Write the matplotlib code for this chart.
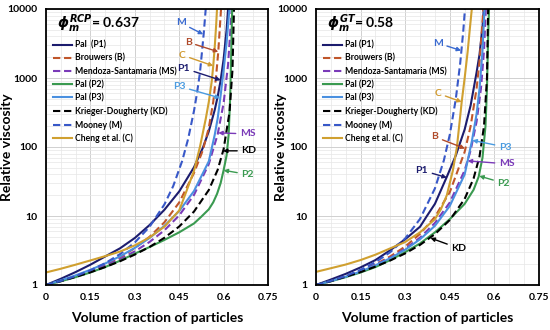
import numpy as np
import matplotlib
matplotlib.use('Agg')
import matplotlib.pyplot as plt
from matplotlib.ticker import FixedLocator, LogLocator, NullFormatter, FixedFormatter

plt.rcParams['font.family'] = ['Lato', 'DejaVu Sans']
plt.rcParams['font.weight'] = 'bold'
plt.rcParams['mathtext.fontset'] = 'dejavusans'

# ---------- left panel: phi_m(RCP) = 0.637 ----------
phi_p1_L = [0, .05, .1, .15, .2, .25, .3, .35, .4, .45, .5, .53, .55, .57, .58, .59, .6, .61, .616]
eta_p1_L = [1, 1.23, 1.54, 1.97, 2.59, 3.4, 4.8, 7.4, 12.3, 22.7, 50.9, 97.6, 169, 344, 539, 927, 1870, 4940, 11400]
phi_b_L = [0, .05, .1, .15, .2, .25, .3, .35, .4, .45, .5, .53, .55, .565, .575, .582, .588, .592]
eta_b_L = [1, 1.14, 1.33, 1.59, 1.96, 2.52, 3.42, 5.0, 8.1, 15.7, 42, 90, 190, 450, 1100, 2400, 6000, 11000]
phi_ms_L = [0, .05, .1, .15, .2, .25, .3, .35, .4, .45, .5, .55, .58, .6, .615, .625, .629]
eta_ms_L = [1, 1.14, 1.32, 1.56, 1.90, 2.37, 3.07, 4.21, 6.2, 10.2, 20.2, 56.7, 153, 431, 1540, 6860, 13000]
phi_p2_L = [0, .05, .1, .15, .2, .25, .3, .35, .4, .45, .5, .525, .55, .565, .578, .59, .6, .61, .617, .622, .626, .629]
eta_p2_L = [1, 1.13, 1.3, 1.52, 1.82, 2.25, 2.85, 3.55, 4.5, 5.8, 7.8, 9.8, 12.5, 15.8, 21, 30, 46, 75, 150, 500, 2500, 10500]
phi_p3_L = [0, .05, .1, .15, .2, .25, .3, .35, .4, .45, .5, .55, .57, .58, .59, .6, .61, .62]
eta_p3_L = [1, 1.17, 1.38, 1.66, 2.05, 2.6, 3.45, 4.8, 7.2, 11.8, 23, 62, 150, 260, 560, 1300, 3200, 10500]
phi_kd_L = [0, .05, .1, .15, .2, .25, .3, .35, .4, .45, .5, .55, .58, .6, .62, .63, .635]
eta_kd_L = [1, 1.14, 1.31, 1.53, 1.82, 2.21, 2.76, 3.56, 4.83, 7.04, 11.6, 23.8, 46.7, 93, 320, 1318, 9700]
phi_m_L = [0, .05, .1, .15, .2, .25, .3, .35, .4, .43, .46, .48, .5, .51, .52, .527, .533, .54]
eta_m_L = [1, 1.145, 1.345, 1.633, 2.07, 2.80, 4.13, 6.98, 14.7, 27.3, 62.7, 130, 334, 598, 1185, 2400, 4500, 10500]
phi_c_L = [0, .05, .1, .15, .2, .25, .3, .35, .4, .45, .5, .52, .54, .55, .56, .565, .57, .575, .578]
eta_c_L = [1.52, 1.72, 1.97, 2.27, 2.62, 3.05, 3.75, 4.9, 7.0, 12, 45, 100, 260, 450, 900, 1500, 2800, 6000, 10500]

# ---------- right panel: phi_m(GT) = 0.58 ----------
phi_p1_R = [0, .05, .1, .15, .2, .25, .3, .35, .373, .4, .44, .47, .5, .52, .54, .55, .56, .565]
eta_p1_R = [1, 1.2, 1.45, 1.8, 2.3, 3.2, 4.6, 7.0, 10, 15, 37, 75, 180, 400, 1200, 2200, 5500, 11000]
phi_b_R = [0, .05, .1, .15, .2, .25, .3, .35, .4, .45, .5, .52, .54, .55, .56, .564]
eta_b_R = [1, 1.14, 1.34, 1.60, 1.99, 2.60, 3.61, 5.51, 9.73, 22.2, 85, 200, 698, 1750, 6560, 12500]
phi_ms_R = [0, .05, .1, .15, .2, .25, .3, .35, .4, .45, .5, .52, .54, .555, .565, .572]
eta_ms_R = [1, 1.143, 1.33, 1.585, 1.95, 2.49, 3.35, 4.86, 7.93, 15.7, 45.9, 89, 232, 716, 2490, 11700]
phi_p2_R = [0, .05, .1, .15, .2, .25, .3, .35, .4, .45, .5, .53, .547, .56, .57, .575, .579, .582]
eta_p2_R = [1, 1.13, 1.3, 1.52, 1.82, 2.3, 3.0, 4.0, 5.8, 9.0, 15, 24, 37, 70, 200, 700, 4000, 10500]
phi_p3_R = [0, .05, .1, .15, .2, .25, .3, .35, .4, .45, .5, .524, .54, .55, .56, .567]
eta_p3_R = [1, 1.14, 1.32, 1.57, 1.93, 2.45, 3.25, 4.6, 7.2, 14, 40, 120, 300, 700, 2500, 10500]
phi_kd_R = [0, .05, .1, .15, .2, .25, .3, .35, .4, .45, .5, .53, .55, .565, .575, .579]
eta_kd_R = [1, 1.14, 1.32, 1.54, 1.85, 2.27, 2.87, 3.82, 5.46, 8.75, 17.7, 35, 73, 200, 985, 10200]
phi_m_R = [0, .05, .1, .15, .2, .25, .3, .35, .4, .43, .45, .47, .485, .495, .502]
eta_m_R = [1, 1.147, 1.35, 1.66, 2.14, 3.0, 4.73, 9.08, 25.1, 63.9, 151, 490, 1640, 4630, 11300]
phi_c_R = [0, .05, .1, .15, .2, .25, .3, .35, .4, .42, .44, .46, .474, .49, .5, .51, .518, .524]
eta_c_R = [1.55, 1.75, 1.98, 2.3, 2.75, 3.4, 4.2, 5.8, 9.0, 12.5, 20, 45, 100, 450, 1000, 2400, 5500, 10000]

labels_L = ['Pal  (P1)', 'Brouwers (B)', 'Mendoza-Santamaria (MS)', 'Pal (P2)', 'Pal (P3)',
            'Krieger-Dougherty (KD)', 'Mooney (M)', 'Cheng et al. (C)']
labels_R = ['Pal (P1)', 'Brouwers (B)', 'Mendoza-Santamaria (MS)', 'Pal (P2)', 'Pal (P3)',
            'Krieger-Dougherty (KD)', 'Mooney (M)', 'Cheng et al. (C)']

colors = ['#1c1c6e', '#c0562a', '#7a3ab8', '#3a9a50', '#4a90e0', '#000000', '#3858c8', '#d0a030']
dashed = [False, True, True, False, False, True, True, False]
txtcol = {'P1': '#1c1c6e', 'B': '#b04a2a', 'MS': '#7a3ab8', 'P2': '#3a9a50', 'P3': '#4a9be0',
          'KD': '#000000', 'M': '#3a6ad0', 'C': '#d09a30'}

data_L = [(phi_p1_L, eta_p1_L), (phi_b_L, eta_b_L), (phi_ms_L, eta_ms_L), (phi_p2_L, eta_p2_L),
          (phi_p3_L, eta_p3_L), (phi_kd_L, eta_kd_L), (phi_m_L, eta_m_L), (phi_c_L, eta_c_L)]
data_R = [(phi_p1_R, eta_p1_R), (phi_b_R, eta_b_R), (phi_ms_R, eta_ms_R), (phi_p2_R, eta_p2_R),
          (phi_p3_R, eta_p3_R), (phi_kd_R, eta_kd_R), (phi_m_R, eta_m_R), (phi_c_R, eta_c_R)]

# label -> (curve point, text point, ha)
notes_L = {'M': ((0.531, 4300), (0.455, 6300), 'center'),
           'B': ((0.582, 2400), (0.48, 3300), 'center'),
           'C': ((0.565, 1500), (0.46, 2150), 'center'),
           'P1': ((0.59, 930), (0.465, 1390), 'center'),
           'P3': ((0.588, 513), (0.45, 760), 'center'),
           'MS': ((0.582, 160), (0.655, 155), 'left'),
           'KD': ((0.598, 88), (0.66, 88), 'left'),
           'P2': ((0.6, 46), (0.66, 40), 'left')}
notes_R = {'M': ((0.488, 2500), (0.41, 3200), 'center'),
           'C': ((0.49, 450), (0.41, 600), 'center'),
           'B': ((0.501, 95), (0.40, 140), 'center'),
           'P3': ((0.526, 125), (0.615, 100), 'left'),
           'MS': ((0.51, 63), (0.615, 57), 'left'),
           'P1': ((0.44, 36), (0.356, 46), 'center'),
           'P2': ((0.549, 38), (0.61, 30), 'left'),
           'KD': ((0.385, 4.8), (0.455, 3.4), 'left')}


def draw(ax, data, labels, notes, title, ylab_x):
    for (x, y), lab, c, d in zip(data, labels, colors, dashed):
        if d:
            ax.plot(x, y, color=c, lw=1.5, dashes=(3.5, 1.8), label=lab)
        else:
            ax.plot(x, y, color=c, lw=1.5, label=lab)
    ax.set_yscale('log')
    ax.set_xlim(0, 0.75)
    ax.set_ylim(1, 10000)
    ax.xaxis.set_major_locator(FixedLocator([0, 0.15, 0.3, 0.45, 0.6, 0.75]))
    ax.xaxis.set_major_formatter(FixedFormatter(['0', '0.15', '0.3', '0.45', '0.6', '0.75']))
    ax.xaxis.set_minor_locator(FixedLocator(np.arange(0.05, 0.75, 0.05)))
    ax.yaxis.set_major_locator(FixedLocator([1, 10, 100, 1000, 10000]))
    ax.yaxis.set_major_formatter(FixedFormatter(['1', '10', '100', '1000', '10000']))
    ax.yaxis.set_minor_locator(LogLocator(base=10, subs=np.arange(2, 10)))
    ax.yaxis.set_minor_formatter(NullFormatter())
    ax.grid(True, which='major', color='#d0d0d0', lw=0.7)
    ax.grid(True, which='minor', color='#e6e6e6', lw=0.5)
    ax.set_axisbelow(True)
    ax.tick_params(which='both', length=0, labelsize=7.5, pad=6)
    for s in ax.spines.values():
        s.set_linewidth(1.3)
        s.set_color('black')
    ax.set_xlabel('Volume fraction of particles', fontsize=10, fontweight='bold', labelpad=7)
    ax.set_ylabel('Relative viscosity', fontsize=10, fontweight='bold')
    ax.yaxis.set_label_coords(ylab_x, 0.5)
    ax.text(0.05, 0.945, title, transform=ax.transAxes, fontsize=10, fontweight='bold',
            va='center', ha='left')
    ax.legend(loc='upper left', bbox_to_anchor=(0.0, 0.91), frameon=False, fontsize=6.2,
              handlelength=2.2, handletextpad=0.4, labelspacing=0.48, borderpad=0.3)
    for k, (xy, xt, ha) in notes.items():
        ax.annotate(k, xy=xy, xytext=xt, color=txtcol[k], fontsize=7.5, fontweight='bold',
                    ha=ha, va='center',
                    arrowprops=dict(arrowstyle='-|>', color=txtcol[k], lw=1.0,
                                    mutation_scale=6, shrinkA=1, shrinkB=0))


fig = plt.figure(figsize=(5.5, 3.3), dpi=100)
ax1 = fig.add_axes([46 / 550, 45 / 330, 222 / 550, 276 / 330])
ax2 = fig.add_axes([316 / 550, 45 / 330, 223 / 550, 276 / 330])
draw(ax1, data_L, labels_L, notes_L, r'$\phi_m^{RCP}$= 0.637', -0.148)
draw(ax2, data_R, labels_R, notes_R, r'$\phi_m^{GT}$= 0.58', -0.128)
fig.savefig('out.png', dpi=100)
